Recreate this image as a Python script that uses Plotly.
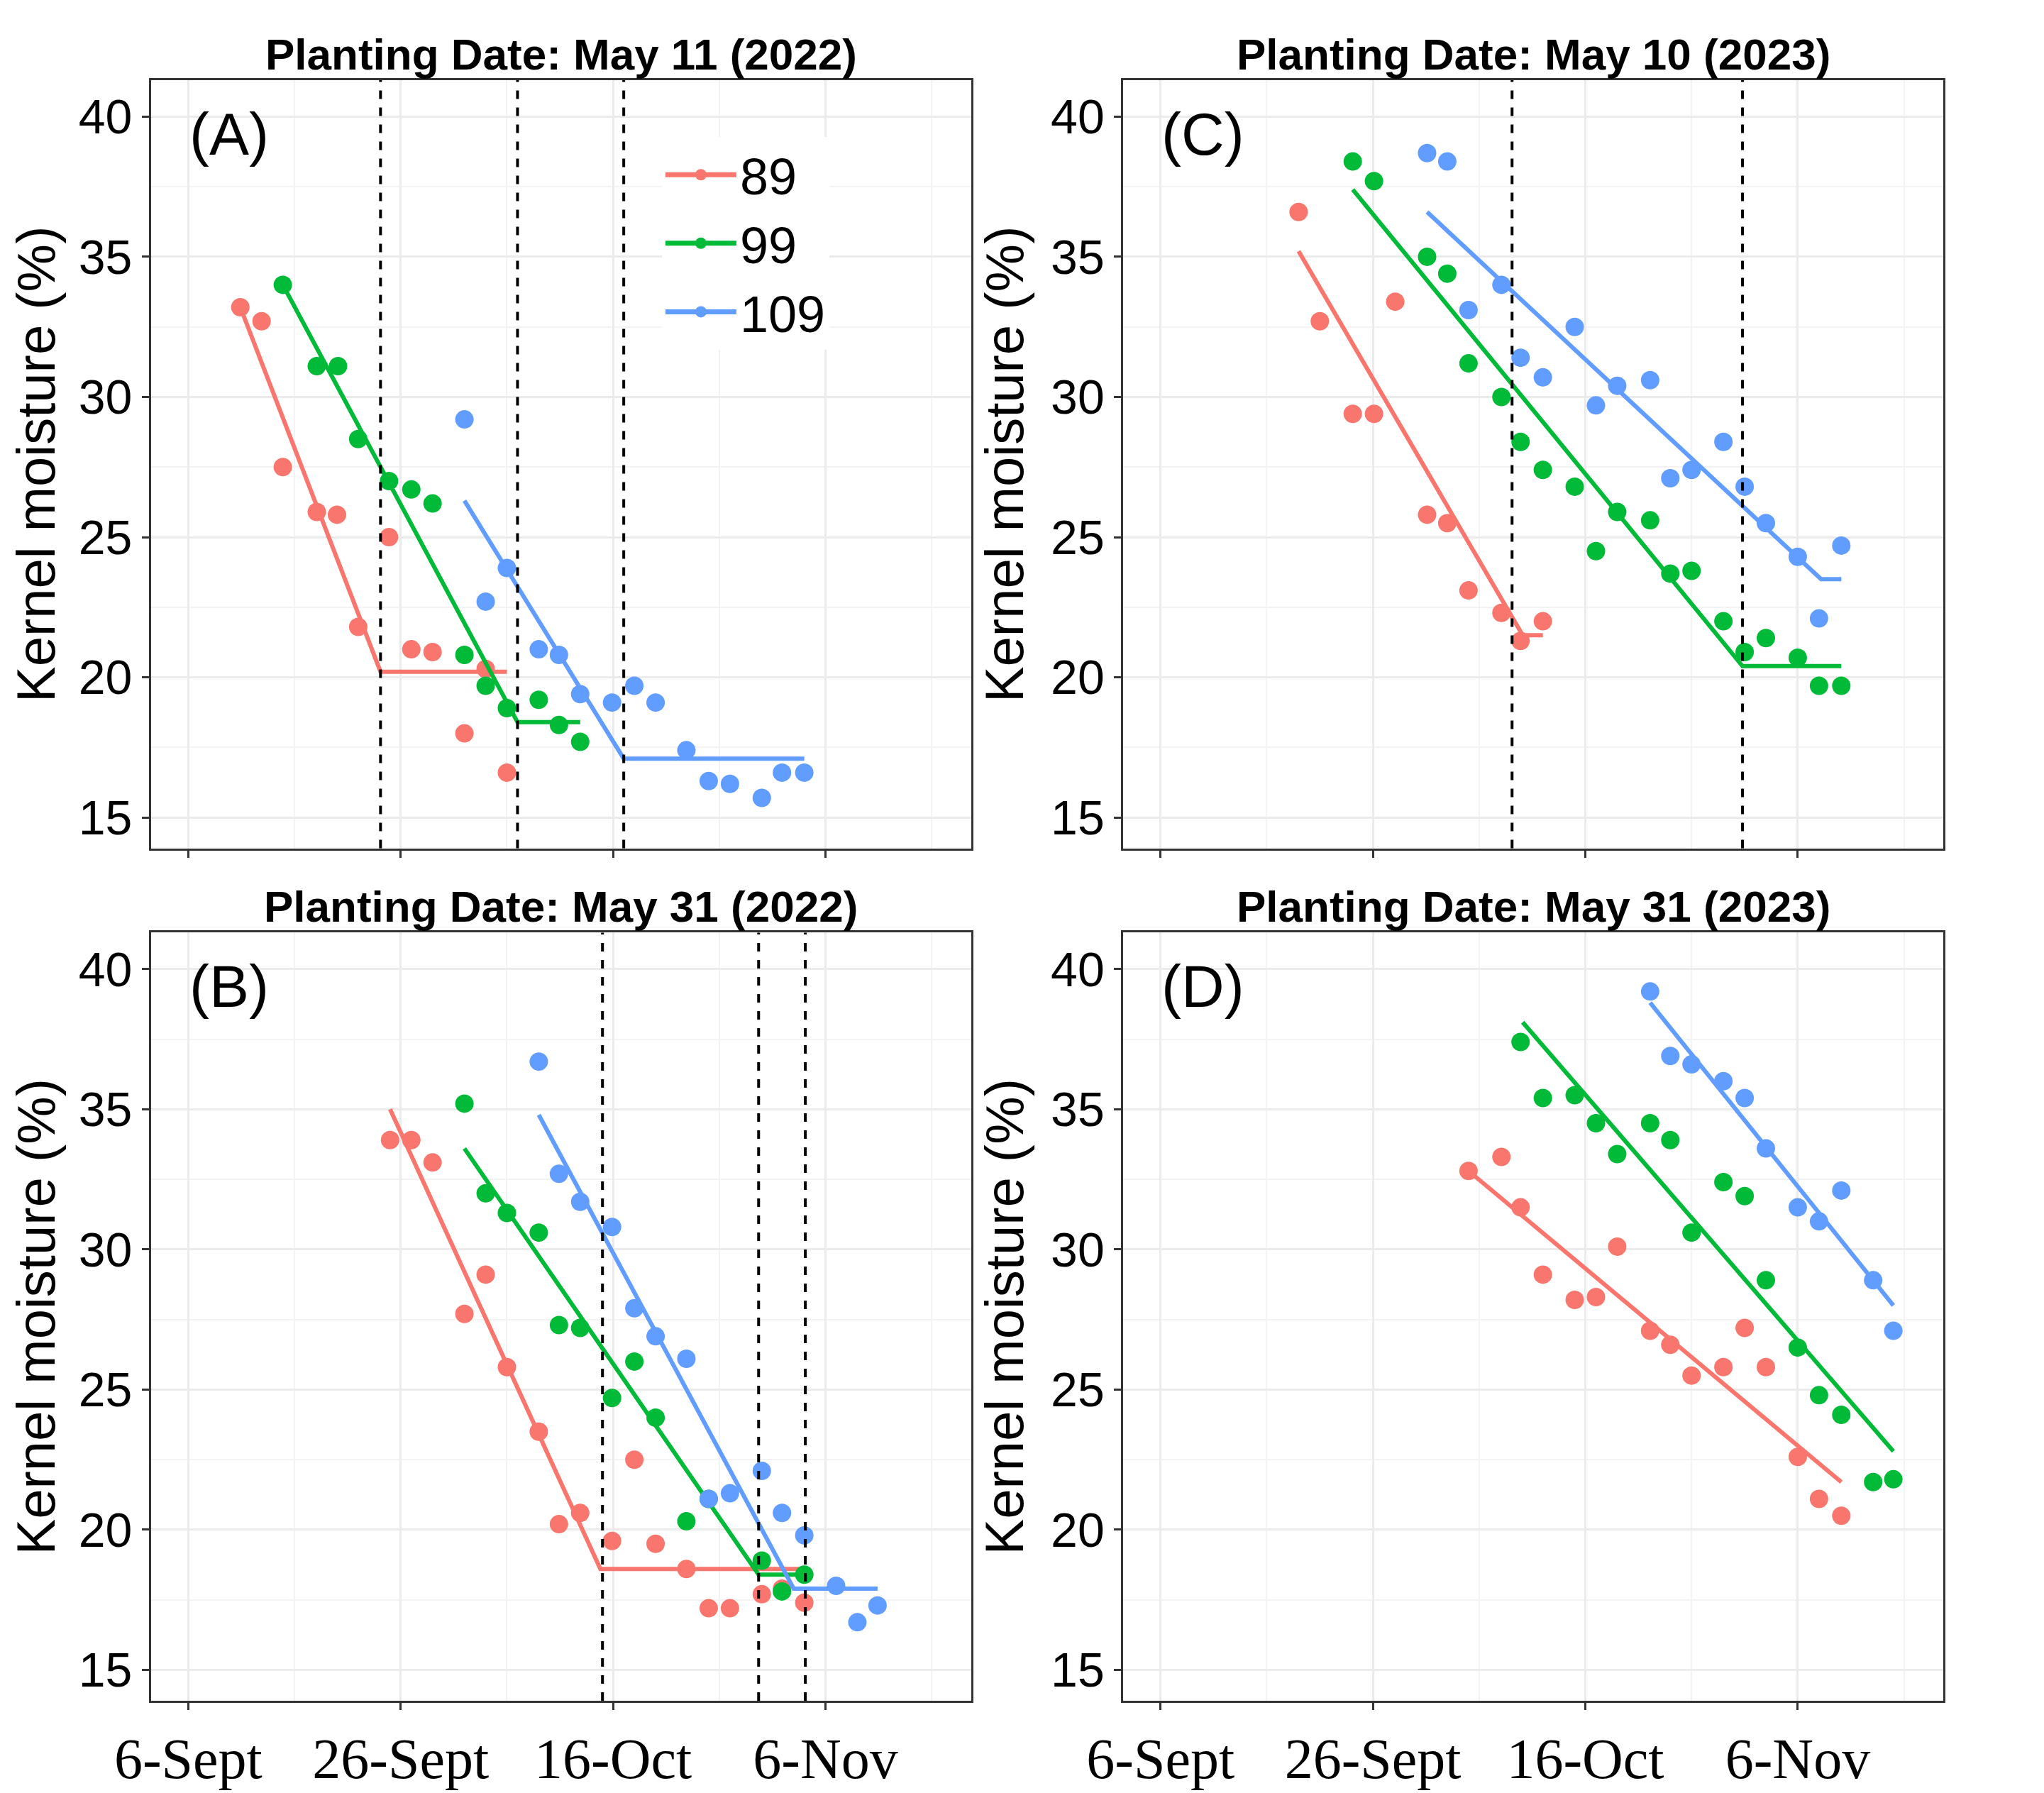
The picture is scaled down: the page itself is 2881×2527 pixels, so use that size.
import plotly.graph_objects as go
from plotly.subplots import make_subplots

# x = days after 6-Sept
x_ticks = [0, 20, 40, 60]
x_labels = ["6-Sept", "26-Sept", "16-Oct", "6-Nov"]
groups = ["89", "99", "109"]
colors = {"89": "#F8766D", "99": "#00BA38", "109": "#619CFF"}

# Panel A: May 11 (2022)
a89_x = [4.9, 6.9, 8.9, 12.1, 14.0, 16.0, 18.9, 21.0, 23.0, 26.0, 28.0, 30.0]
a89_y = [33.2, 32.7, 27.5, 25.9, 25.8, 21.8, 25.0, 21.0, 20.9, 18.0, 20.3, 16.6]
a89_fx = [4.9, 18.1, 30.0]
a89_fy = [33.2, 20.2, 20.2]
a99_x = [8.9, 12.1, 14.1, 16.0, 18.9, 21.0, 23.0, 26.0, 28.0, 30.0, 33.0, 34.9, 36.9]
a99_y = [34.0, 31.1, 31.1, 28.5, 27.0, 26.7, 26.2, 20.8, 19.7, 18.9, 19.2, 18.3, 17.7]
a99_fx = [8.9, 31.0, 36.9]
a99_fy = [34.0, 18.4, 18.4]
a109_x = [26.0, 28.0, 30.0, 33.0, 34.9, 36.9, 39.9, 42.0, 44.0, 46.9, 49.0, 51.0, 54.0, 55.9, 58.0]
a109_y = [29.2, 22.7, 23.9, 21.0, 20.8, 19.4, 19.1, 19.7, 19.1, 17.4, 16.3, 16.2, 15.7, 16.6, 16.6]
a109_fx = [26.0, 41.0, 58.0]
a109_fy = [26.3, 17.1, 17.1]
a_vlines = [18.1, 31.0, 41.0]

# Panel B: May 31 (2022)
b89_x = [19.0, 21.0, 23.0, 26.0, 28.0, 30.0, 33.0, 34.9, 36.9, 39.9, 42.0, 44.0, 46.9, 49.0, 51.0, 54.0, 55.9, 58.0]
b89_y = [33.9, 33.9, 33.1, 27.7, 29.1, 25.8, 23.5, 20.2, 20.6, 19.6, 22.5, 19.5, 18.6, 17.2, 17.2, 17.7, 17.9, 17.4]
b89_fx = [19.0, 38.8, 58.0]
b89_fy = [35.0, 18.6, 18.6]
b99_x = [26.0, 28.0, 30.0, 33.0, 34.9, 36.9, 39.9, 42.0, 44.0, 46.9, 49.0, 54.0, 55.9, 58.0]
b99_y = [35.2, 32.0, 31.3, 30.6, 27.3, 27.2, 24.7, 26.0, 24.0, 20.3, 21.1, 18.9, 17.8, 18.4]
b99_fx = [26.0, 53.7, 58.0]
b99_fy = [33.6, 18.4, 18.4]
b109_x = [33.0, 34.9, 36.9, 39.9, 42.0, 44.0, 46.9, 49.0, 51.0, 54.0, 55.9, 58.0, 61.0, 63.0, 64.9]
b109_y = [36.7, 32.7, 31.7, 30.8, 27.9, 26.9, 26.1, 21.1, 21.3, 22.1, 20.6, 19.8, 18.0, 16.7, 17.3]
b109_fx = [33.0, 57.0, 64.9]
b109_fy = [34.8, 17.9, 17.9]
b_vlines = [39.0, 53.7, 58.1]

# Panel C: May 10 (2023)
c89_x = [13.0, 15.0, 18.1, 20.1, 22.1, 25.1, 27.0, 29.0, 32.1, 33.9, 36.0]
c89_y = [36.6, 32.7, 29.4, 29.4, 33.4, 25.8, 25.5, 23.1, 22.3, 21.3, 22.0]
c89_fx = [13.0, 34.1, 36.0]
c89_fy = [35.2, 21.5, 21.5]
c99_x = [18.1, 20.1, 25.1, 27.0, 29.0, 32.1, 33.9, 36.0, 39.0, 41.0, 43.0, 46.1, 48.0, 50.0, 53.0, 55.0, 57.0, 60.0, 62.0, 64.1]
c99_y = [38.4, 37.7, 35.0, 34.4, 31.2, 30.0, 28.4, 27.4, 26.8, 24.5, 25.9, 25.6, 23.7, 23.8, 22.0, 20.9, 21.4, 20.7, 19.7, 19.7]
c99_fx = [18.1, 54.8, 64.1]
c99_fy = [37.4, 20.4, 20.4]
c109_x = [25.1, 27.0, 29.0, 32.1, 33.9, 36.0, 39.0, 41.0, 43.0, 46.1, 48.0, 50.0, 53.0, 55.0, 57.0, 60.0, 62.0, 64.1]
c109_y = [38.7, 38.4, 33.1, 34.0, 31.4, 30.7, 32.5, 29.7, 30.4, 30.6, 27.1, 27.4, 28.4, 26.8, 25.5, 24.3, 22.1, 24.7]
c109_fx = [25.1, 62.2, 64.1]
c109_fy = [36.6, 23.5, 23.5]
c_vlines = [33.1, 54.8]

# Panel D: May 31 (2023)
d89_x = [29.0, 32.1, 33.9, 36.0, 39.0, 41.0, 43.0, 46.1, 48.0, 50.0, 53.0, 55.0, 57.0, 60.0, 62.0, 64.1]
d89_y = [32.8, 33.3, 31.5, 29.1, 28.2, 28.3, 30.1, 27.1, 26.6, 25.5, 25.8, 27.2, 25.8, 22.6, 21.1, 20.5]
d89_fx = [29.0, 64.1]
d89_fy = [32.8, 21.7]
d99_x = [33.9, 36.0, 39.0, 41.0, 43.0, 46.1, 48.0, 50.0, 53.0, 55.0, 57.0, 60.0, 62.0, 64.1, 67.1, 69.0]
d99_y = [37.4, 35.4, 35.5, 34.5, 33.4, 34.5, 33.9, 30.6, 32.4, 31.9, 28.9, 26.5, 24.8, 24.1, 21.7, 21.8]
d99_fx = [34.1, 69.0]
d99_fy = [38.1, 22.8]
d109_x = [46.1, 48.0, 50.0, 53.0, 55.0, 57.0, 60.0, 62.0, 64.1, 67.1, 69.0]
d109_y = [39.2, 36.9, 36.6, 36.0, 35.4, 33.6, 31.5, 31.0, 32.1, 28.9, 27.1]
d109_fx = [46.1, 69.0]
d109_fy = [38.8, 28.0]

panels = [
    (1, 1, "(A)", [(a89_x, a89_y, a89_fx, a89_fy), (a99_x, a99_y, a99_fx, a99_fy), (a109_x, a109_y, a109_fx, a109_fy)], a_vlines),
    (1, 2, "(C)", [(c89_x, c89_y, c89_fx, c89_fy), (c99_x, c99_y, c99_fx, c99_fy), (c109_x, c109_y, c109_fx, c109_fy)], c_vlines),
    (2, 1, "(B)", [(b89_x, b89_y, b89_fx, b89_fy), (b99_x, b99_y, b99_fx, b99_fy), (b109_x, b109_y, b109_fx, b109_fy)], b_vlines),
    (2, 2, "(D)", [(d89_x, d89_y, d89_fx, d89_fy), (d99_x, d99_y, d99_fx, d99_fy), (d109_x, d109_y, d109_fx, d109_fy)], []),
]

fig = make_subplots(rows=2, cols=2, horizontal_spacing=0.085, vertical_spacing=0.052,
                    subplot_titles=["Planting Date: May 11 (2022)", "Planting Date: May 10 (2023)",
                                    "Planting Date: May 31 (2022)", "Planting Date: May 31 (2023)"])

for r, c, label, series, vl in panels:
    for g, (px_, py_, fx, fy) in zip(groups, series):
        fig.add_trace(go.Scatter(x=px_, y=py_, mode="markers", marker=dict(color=colors[g], size=26),
                                 name=g, legendgroup=g, showlegend=False), row=r, col=c)
        fig.add_trace(go.Scatter(x=fx, y=fy, mode="lines", line=dict(color=colors[g], width=6),
                                 name=g, legendgroup=g, showlegend=False), row=r, col=c)
        if (r, c) == (1, 1):
            fig.add_trace(go.Scatter(x=[None], y=[None], mode="lines+markers", name=g,
                                     line=dict(color=colors[g], width=7),
                                     marker=dict(color=colors[g], size=26)), row=r, col=c)
    for v in vl:
        fig.add_vline(x=v, line=dict(color="black", dash="dash", width=4), row=r, col=c)
    n = (r - 1) * 2 + c
    sfx = "" if n == 1 else str(n)
    fig.add_annotation(x=0.045, y=0.975, xref=f"x{sfx} domain", yref=f"y{sfx} domain",
                       text=label, showarrow=False, xanchor="left", yanchor="top",
                       font=dict(family="Arial", size=84, color="black"))

fig.update_xaxes(range=[-3.5, 73.7], tickvals=x_ticks, ticktext=x_labels, showgrid=True,
                 gridcolor="#EBEBEB", gridwidth=3, minor=dict(dtick=10, tick0=0, showgrid=True, gridcolor="#F3F3F3", gridwidth=2),
                 showline=True, linecolor="#333333", linewidth=3, mirror=True, ticks="outside",
                 ticklen=10, tickwidth=3, tickcolor="#333333", zeroline=False,
                 tickfont=dict(family="Times New Roman, Liberation Serif", size=80, color="black"))
fig.update_xaxes(showticklabels=False, row=1)
fig.update_yaxes(range=[13.9, 41.3], tickvals=[15, 20, 25, 30, 35, 40], showgrid=True,
                 gridcolor="#EBEBEB", gridwidth=3, minor=dict(dtick=2.5, tick0=0, showgrid=True, gridcolor="#F3F3F3", gridwidth=2),
                 showline=True, linecolor="#333333", linewidth=3, mirror=True, ticks="outside",
                 ticklen=10, tickwidth=3, tickcolor="#333333", zeroline=False,
                 tickfont=dict(family="Arial", size=68, color="black"),
                 title=dict(text="Kernel moisture (%)", font=dict(family="Arial", size=76, color="black"), standoff=14))

for ann in fig.layout.annotations:
    if ann.text.startswith("Planting"):
        ann.font = dict(family="Arial", size=62, color="black", weight="bold")

fig.update_layout(width=2881, height=2527, plot_bgcolor="white", paper_bgcolor="white",
                  margin=dict(l=205, r=150, t=105, b=135),
                  legend=dict(x=0.285, y=0.965, xanchor="left", yanchor="top", bgcolor="white",
                              font=dict(family="Arial", size=72, color="black"), itemwidth=100,
                              tracegroupgap=20))

fig.write_html("out.html")
